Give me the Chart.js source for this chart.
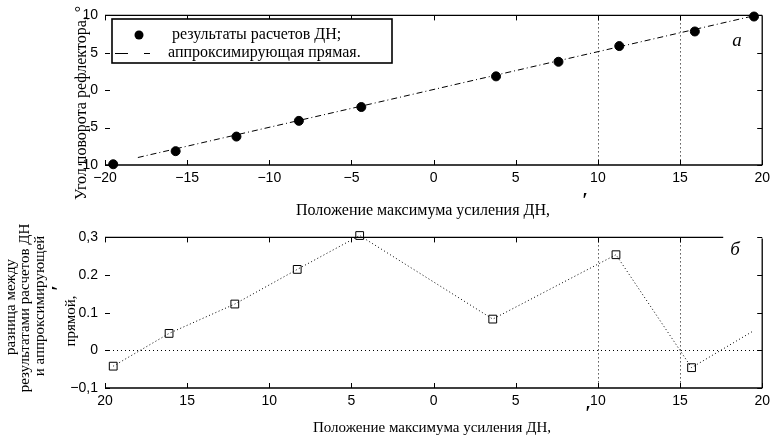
<!DOCTYPE html>
<html>
<head>
<meta charset="utf-8">
<script src="https://cdn.jsdelivr.net/npm/chart.js@4.4.0/dist/chart.umd.min.js"></script>
<style>
html, body { margin: 0; padding: 0; background: #fff; }
#wrap { position: relative; width: 775px; height: 443px; }
.panel { position: absolute; left: 0; width: 775px; }
</style>
</head>
<body>
<div id="wrap">
  <div class="panel" style="top:0;height:222px"><canvas id="topChart"></canvas></div>
  <div class="panel" style="top:222px;height:221px"><canvas id="botChart"></canvas></div>
</div>
<script>
// верхний график (а): результаты расчетов ДН и аппроксимирующая прямая
const calcX = [-19.5, -15.7, -12.0, -8.2, -4.4, 3.8, 7.6, 11.3, 15.9, 19.5];
const calcY = [-9.9, -8.15, -6.2, -4.1, -2.25, 1.85, 3.8, 5.9, 7.85, 9.85];
const fitX = [-18, 19.5];
const fitY = [-9.0, 9.95];

// нижний график (б): разница между расчетами и прямой
const diffX = [-19.5, -16.1, -12.1, -8.3, -4.5, 3.6, 11.1, 15.7, 19.4];
const diffY = [-0.042, 0.045, 0.123, 0.215, 0.305, 0.083, 0.254, -0.046, 0.05];

const xTicks = [-20, -15, -10, -5, 0, 5, 10, 15, 20];
const xLabelsTop = ['−20', '−15', '−10', '−5', '0', '5', '10', '15', '20'];
const xLabelsBot = ['20', '15', '10', '5', '0', '5', '10', '15', '20'];
const yTicksTop = [-10, -5, 0, 5, 10];
const yLabelsTop = ['-10', '-5', '0', '5', '10'];
const yTicksBot = [-0.1, 0, 0.1, 0.2, 0.3];
const yLabelsBot = ['−0,1', '0', '0.1', '0.2', '0,3'];

const serif = '"Liberation Serif", "DejaVu Serif", serif';
const sans = '"Liberation Sans", Arial, sans-serif';

// рамка, внутренние засечки и пунктирные линии сетки
const framePlugin = {
    id: 'frame',
    beforeDatasetsDraw(chart, args, opts) {
        const ctx = chart.ctx, a = chart.chartArea;
        const xs = chart.scales.x, ys = chart.scales.y;
        ctx.save();
        ctx.strokeStyle = '#000';
        ctx.lineWidth = 1;
        ctx.setLineDash([1, 3]);
        (opts.vlines || []).forEach(v => {
            const px = Math.round(xs.getPixelForValue(v)) + 0.5;
            ctx.beginPath(); ctx.moveTo(px, a.top); ctx.lineTo(px, a.bottom); ctx.stroke();
        });
        (opts.hlines || []).forEach(v => {
            const py = Math.round(ys.getPixelForValue(v)) + 0.5;
            ctx.beginPath(); ctx.moveTo(a.left, py); ctx.lineTo(a.right, py); ctx.stroke();
        });
        ctx.restore();
    },
    afterDatasetsDraw(chart, args, opts) {
        const ctx = chart.ctx, a = chart.chartArea;
        const xs = chart.scales.x, ys = chart.scales.y;
        const L = 5;
        ctx.save();
        ctx.strokeStyle = '#000';
        ctx.lineWidth = 1.3;
        ctx.setLineDash([]);
        ctx.beginPath();
        ctx.moveTo(a.left, a.top); ctx.lineTo(a.right - (opts.topGap || 0), a.top);
        ctx.moveTo(a.right, a.top + (opts.rightGap || 0)); ctx.lineTo(a.right, a.bottom);
        ctx.moveTo(a.left, a.bottom); ctx.lineTo(a.right, a.bottom);
        ctx.stroke();
        ctx.lineWidth = 1;
        ctx.beginPath();
        xs.ticks.forEach(t => {
            const px = Math.round(xs.getPixelForValue(t.value)) + 0.5;
            ctx.moveTo(px, a.bottom); ctx.lineTo(px, a.bottom - L);
            if (px < a.right - (opts.topGap || 0)) { ctx.moveTo(px, a.top); ctx.lineTo(px, a.top + L); }
        });
        ys.ticks.forEach(t => {
            const py = Math.round(ys.getPixelForValue(t.value)) + 0.5;
            ctx.moveTo(a.left, py); ctx.lineTo(a.left + L, py);
            ctx.moveTo(a.right, py); ctx.lineTo(a.right - L, py);
        });
        ctx.stroke();
        ctx.restore();
    }
};

// подписи осей, буквы панелей, легенда
const textPlugin = {
    id: 'texts',
    afterDraw(chart, args, opts) {
        const ctx = chart.ctx;
        ctx.save();
        ctx.fillStyle = '#000';
        (opts.items || []).forEach(it => {
            ctx.save();
            ctx.font = it.font;
            ctx.textAlign = it.align || 'center';
            ctx.textBaseline = it.baseline || 'middle';
            ctx.translate(it.x, it.y);
            if (it.rot) ctx.rotate(it.rot);
            ctx.fillText(it.text, 0, 0);
            ctx.restore();
        });
        const lg = opts.legend;
        if (lg) {
            ctx.fillStyle = '#fff';
            ctx.fillRect(lg.x, lg.y, lg.w, lg.h);
            ctx.strokeStyle = '#000';
            ctx.lineWidth = 1.6;
            ctx.strokeRect(lg.x, lg.y, lg.w, lg.h);
            ctx.fillStyle = '#000';
            ctx.beginPath();
            ctx.arc(lg.x + 27, lg.y + 16, 4.5, 0, Math.PI * 2);
            ctx.fill();
            ctx.lineWidth = 1;
            ctx.beginPath();
            ctx.moveTo(lg.x + 3, lg.y + 34.5); ctx.lineTo(lg.x + 16, lg.y + 34.5);
            ctx.moveTo(lg.x + 32, lg.y + 34.5); ctx.lineTo(lg.x + 38, lg.y + 34.5);
            ctx.stroke();
            ctx.font = '16px ' + serif;
            ctx.textAlign = 'left';
            ctx.textBaseline = 'middle';
            ctx.fillText(lg.labels[0], lg.x + 60, lg.y + 16);
            ctx.fillText(lg.labels[1], lg.x + 56, lg.y + 34);
        }
        ctx.restore();
    }
};

function makeScales(yMin, yMax, yTicks, yLabels, xLabels, xHeight) {
    return {
        x: {
            type: 'linear', min: -20, max: 20,
            afterBuildTicks: s => { s.ticks = xTicks.map(v => ({ value: v })); },
            afterFit: s => { s.height = xHeight; },
            grid: { display: false, drawTicks: false },
            border: { display: false },
            ticks: {
                color: '#000', font: { family: sans, size: 14 }, padding: 5,
                maxRotation: 0, autoSkip: false,
                callback: (v, i) => xLabels[i]
            }
        },
        y: {
            type: 'linear', min: yMin, max: yMax,
            afterBuildTicks: s => { s.ticks = yTicks.map(v => ({ value: v })); },
            afterFit: s => { s.width = 105; },
            grid: { display: false, drawTicks: false },
            border: { display: false },
            ticks: {
                color: '#000', font: { family: sans, size: 14 }, padding: 7,
                autoSkip: false,
                callback: (v, i) => yLabels[i]
            }
        }
    };
}

const up = -Math.PI / 2;

const topChart = new Chart(document.getElementById('topChart'), {
    type: 'scatter',
    data: {
        datasets: [
            {
                label: 'аппроксимирующая прямая',
                data: fitX.map((x, i) => ({ x: x, y: fitY[i] })),
                showLine: true, borderColor: '#000', borderWidth: 1,
                borderDash: [6, 3, 1, 3], pointRadius: 0, fill: false
            },
            {
                label: 'результаты расчетов ДН',
                data: calcX.map((x, i) => ({ x: x, y: calcY[i] })),
                showLine: false, pointRadius: 4.5, pointBackgroundColor: '#000',
                pointBorderColor: '#000', clip: false
            }
        ]
    },
    options: {
        responsive: true, maintainAspectRatio: false, animation: false,
        layout: { padding: { left: 0, right: 9, top: 12, bottom: 0 } },
        scales: makeScales(-10, 10, yTicksTop, yLabelsTop, xLabelsTop, 57),
        plugins: {
            legend: { display: false }, tooltip: { enabled: false },
            frame: { vlines: [10, 15] },
            texts: {
                items: [
                    { text: 'Положение максимума усиления ДН,', x: 423, y: 211, font: '16px ' + serif },
                    { text: '′', x: 585, y: 202, font: 'bold 20px ' + serif },
                    { text: 'Угол поворота рефлектора, °', x: 86, y: 200, rot: up, align: 'left', baseline: 'alphabetic', font: '16px ' + serif },
                    { text: 'а', x: 737, y: 41, font: 'italic 19px ' + serif }
                ],
                legend: { x: 112, y: 19, w: 280, h: 44, labels: ['результаты расчетов ДН;', 'аппроксимирующая прямая.'] }
            }
        }
    },
    plugins: [framePlugin, textPlugin]
});

const botChart = new Chart(document.getElementById('botChart'), {
    type: 'scatter',
    data: {
        datasets: [
            {
                label: 'разница',
                data: diffX.map((x, i) => ({ x: x, y: diffY[i] })),
                showLine: true, borderColor: '#000', borderWidth: 1,
                borderDash: [1, 2.5], fill: false, clip: false,
                pointStyle: 'rect', pointRadius: diffX.map((x, i) => i === diffX.length - 1 ? 0 : 5.5),
                pointBackgroundColor: 'rgba(0,0,0,0)', pointBorderColor: '#000', pointBorderWidth: 1
            }
        ]
    },
    options: {
        responsive: true, maintainAspectRatio: false, animation: false,
        layout: { padding: { left: 0, right: 9, top: 12, bottom: 0 } },
        scales: makeScales(-0.1, 0.3, yTicksBot, yLabelsBot, xLabelsBot, 55),
        plugins: {
            legend: { display: false }, tooltip: { enabled: false },
            frame: { vlines: [10, 15], hlines: [0], topGap: 39, rightGap: 1 },
            texts: {
                items: [
                    { text: 'Положение максимума усиления ДН,', x: 432, y: 206, font: '15px ' + serif },
                    { text: '′', x: 588, y: 193, font: 'bold 20px ' + serif },
                    { text: 'разница между', x: 11, y: 85, rot: up, font: '15px ' + serif },
                    { text: 'результатами расчетов ДН', x: 25, y: 86, rot: up, font: '15px ' + serif },
                    { text: 'и аппроксимирующей', x: 40, y: 84, rot: up, font: '15px ' + serif },
                    { text: 'прямой,', x: 71, y: 99, rot: up, font: '15px ' + serif },
                    { text: '′', x: 61, y: 66, rot: up, font: 'bold 20px ' + serif },
                    { text: 'б', x: 735, y: 28, font: 'italic 19px ' + serif }
                ]
            }
        }
    },
    plugins: [framePlugin, textPlugin]
});
</script>
</body>
</html>
